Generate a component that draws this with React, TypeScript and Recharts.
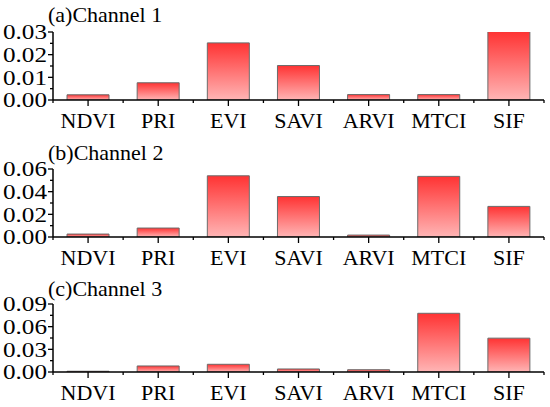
import React from 'react';
import { BarChart, Bar, XAxis, YAxis } from 'recharts';

const categories = ['NDVI', 'PRI', 'EVI', 'SAVI', 'ARVI', 'MTCI', 'SIF'];

const channel1 = [0.0023, 0.0076, 0.0252, 0.0152, 0.0024, 0.0024, 0.0302];
const channel2 = [0.0026, 0.0079, 0.054, 0.0357, 0.0017, 0.0535, 0.027];
const channel3 = [0.001, 0.008, 0.0102, 0.004, 0.003, 0.0777, 0.0448];

const majorTicks1 = [0, 0.01, 0.02, 0.03];
const minorTicks1 = [0.005, 0.015, 0.025];
const majorTicks2 = [0, 0.02, 0.04, 0.06];
const minorTicks2 = [0.01, 0.03, 0.05];
const majorTicks3 = [0, 0.03, 0.06, 0.09];
const minorTicks3 = [0.015, 0.045, 0.075];

const titles = ['(a)Channel 1', '(b)Channel 2', '(c)Channel 3'];

const FONT = '"Liberation Serif", "Times New Roman", serif';
const W = 550;
const H = 136;
const LEFT = 53;
const RIGHT = 6;
const STEP = (W - LEFT - RIGHT) / categories.length;

const YTick = (props: any) => {
  const { x, y, payload, majors } = props;
  const isMajor = majors.includes(payload.value);
  return (
    <g>
      <line x1={x} x2={x - (isMajor ? 5 : 3)} y1={y} y2={y} stroke="#000" strokeWidth={1.3} />
      {isMajor && (
        <text
          x={x - 6}
          y={y}
          dy="0.35em"
          textAnchor="end"
          fontFamily={FONT}
          fontSize={21}
          textLength={44}
          lengthAdjust="spacingAndGlyphs"
          fill="#000"
        >
          {payload.value.toFixed(2)}
        </text>
      )}
    </g>
  );
};

const XTick = (props: any) => {
  const { x, y, payload, index } = props;
  return (
    <g>
      <line x1={x} x2={x} y1={y} y2={y + 6} stroke="#000" strokeWidth={1.3} />
      <line x1={x + STEP / 2} x2={x + STEP / 2} y1={y} y2={y + 3} stroke="#000" strokeWidth={1.3} />
      {index === 0 && (
        <line x1={x - STEP / 2} x2={x - STEP / 2} y1={y} y2={y + 3} stroke="#000" strokeWidth={1.3} />
      )}
      <text x={x} y={y + 28} textAnchor="middle" fontFamily={FONT} fontSize={22} fill="#000">
        {payload.value}
      </text>
    </g>
  );
};

const Panel = ({ values, majors, minors, id, top, title, titleTop }: any) => {
  const data = categories.map((c, i) => ({ name: c, value: values[i] }));
  const domainMax = majors[majors.length - 1];
  return (
    <div style={{ position: 'absolute', left: 0, top, width: W, height: H }}>
      <BarChart width={W} height={H} data={data} margin={{ top: 33, right: RIGHT, bottom: 5, left: 0 }} barCategoryGap="20%">
        <defs>
          <linearGradient id={`grad${id}`} x1="0" y1="0" x2="0" y2="1">
            <stop offset="0%" stopColor="#ff3333" />
            <stop offset="100%" stopColor="#ffb5b5" />
          </linearGradient>
        </defs>
        <XAxis
          dataKey="name"
          height={30}
          tickLine={false}
          tickSize={0}
          tickMargin={0}
          axisLine={{ stroke: '#000', strokeWidth: 1.5 }}
          tick={<XTick />}
          interval={0}
        />
        <YAxis
          width={LEFT}
          domain={[0, domainMax]}
          ticks={[...majors, ...minors].sort((a, b) => a - b)}
          tickLine={false}
          tickSize={0}
          tickMargin={0}
          axisLine={{ stroke: '#000', strokeWidth: 1.5 }}
          tick={<YTick majors={majors} />}
          interval={0}
          allowDataOverflow
        />
        <Bar dataKey="value" fill={`url(#grad${id})`} stroke="#6b6b6b" strokeWidth={1} isAnimationActive={false} />
      </BarChart>
      <div
        style={{
          position: 'absolute',
          left: 48,
          top: titleTop,
          fontFamily: FONT,
          fontSize: 22,
          lineHeight: '22px',
          whiteSpace: 'nowrap',
          color: '#000',
        }}
      >
        {title}
      </div>
    </div>
  );
};

export default function App() {
  return (
    <div style={{ position: 'absolute', left: 0, top: 0, width: W, height: 407, background: '#fff' }}>
      <Panel values={channel1} majors={majorTicks1} minors={minorTicks1} id={1} top={-1} title={titles[0]} titleTop={5} />
      <Panel values={channel2} majors={majorTicks2} minors={minorTicks2} id={2} top={136} title={titles[1]} titleTop={6} />
      <Panel values={channel3} majors={majorTicks3} minors={minorTicks3} id={3} top={271} title={titles[2]} titleTop={7} />
    </div>
  );
}
